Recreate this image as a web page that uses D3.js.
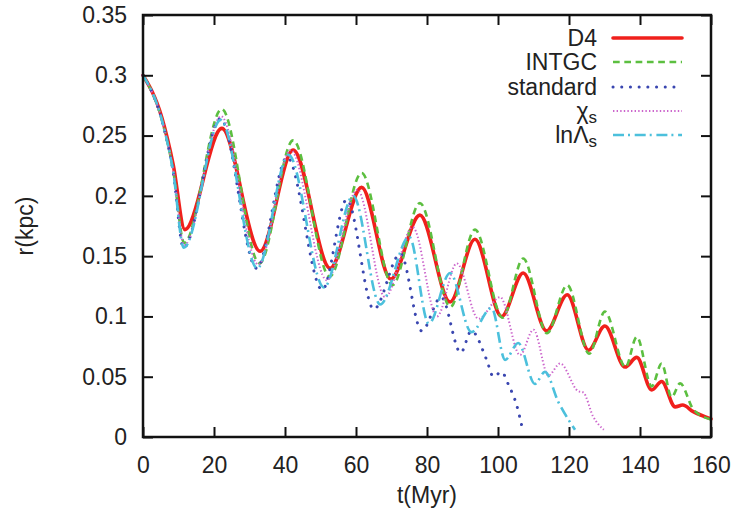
<!DOCTYPE html>
<html>
<head>
<meta charset="utf-8">
<script src="https://cdn.jsdelivr.net/npm/d3@7"></script>
<style>
  body { margin: 0; background: #fff; }
  text { font-family: "Liberation Sans", Arial, sans-serif; fill: #222; }
</style>
</head>
<body>
<div id="chart"></div>
<script>
// tick values
var xTicks = [0, 20, 40, 60, 80, 100, 120, 140, 160];
var yTicks = [0, 0.05, 0.1, 0.15, 0.2, 0.25, 0.3, 0.35];

// [t (Myr), r (kpc)] at extrema and a few in-between points
var d4 = [[0, 0.3], [5.3, 0.265], [8.5, 0.226], [11.8, 0.172], [22.2, 0.256], [33.0, 0.154], [42.3, 0.238], [52.7, 0.140],
  [61.6, 0.207], [69.8, 0.131], [78.0, 0.184], [86.5, 0.112], [93.5, 0.164], [101.0, 0.100],
  [107.1, 0.136], [113.7, 0.088], [119.5, 0.118], [125.5, 0.072], [130.1, 0.092], [135.8, 0.058],
  [139.1, 0.066], [143.3, 0.039], [146.1, 0.046], [149.9, 0.025], [152.0, 0.0265], [155.0, 0.021],
  [160, 0.015]];
var intgc = [[0, 0.3], [5.3, 0.263], [8.5, 0.221], [11.6, 0.161], [22.2, 0.272], [32.8, 0.144], [42.3, 0.246], [52.6, 0.133],
  [61.6, 0.219], [70.3, 0.126], [78.0, 0.194], [86.6, 0.108], [93.5, 0.172], [101.3, 0.099],
  [107.1, 0.148], [113.8, 0.086], [119.5, 0.126], [125.7, 0.069], [130.1, 0.104], [135.9, 0.058],
  [139.1, 0.083], [143.3, 0.042], [146.1, 0.061], [148.9, 0.033], [151.3, 0.0445], [155.0, 0.023],
  [160, 0.0145]];
var standard = [[0, 0.3], [5.3, 0.263], [8.5, 0.220], [11.4, 0.157], [21.8, 0.264], [32.0, 0.140], [40.6, 0.232], [50.5, 0.122],
  [57.4, 0.197], [65.0, 0.106], [72.5, 0.152], [78.5, 0.088], [84.0, 0.116], [89.5, 0.070],
  [92.5, 0.088], [96.8, 0.064], [98.7, 0.050], [101.0, 0.054], [103.0, 0.043], [105.3, 0.026],
  [106.8, 0.008]];
var chiS = [[0, 0.3], [5.3, 0.263], [8.5, 0.221], [11.6, 0.159], [22.0, 0.266], [32.5, 0.143], [41.6, 0.238], [51.8, 0.130],
  [60.4, 0.205], [68.2, 0.116], [76.0, 0.174], [82.8, 0.100], [88.4, 0.144], [94.5, 0.098],
  [100.6, 0.116], [106.2, 0.068], [110.0, 0.089], [114.2, 0.051], [117.5, 0.061], [122.6, 0.038],
  [124.0, 0.037], [126.8, 0.017], [129.8, 0.006]];
var lnLambdaS = [[0, 0.3], [5.3, 0.263], [8.5, 0.220], [11.5, 0.157], [21.9, 0.263], [32.2, 0.140], [41.0, 0.234], [51.0, 0.124],
  [59.2, 0.200], [66.8, 0.110], [75.0, 0.166], [80.5, 0.094], [86.5, 0.136], [92.5, 0.087],
  [98.2, 0.107], [102.0, 0.064], [105.7, 0.078], [110.4, 0.044], [113.2, 0.054], [117.0, 0.029],
  [121.7, 0.006]];

var seriesNames = ["D4", "INTGC", "standard", "χs", "lnΛs"];
var seriesData = [d4, intgc, standard, chiS, lnLambdaS];

var width = 740, height = 514;
var margin = {top: 15, right: 29, bottom: 77, left: 143};

var svg = d3.select("#chart").append("svg")
    .attr("width", width)
    .attr("height", height);

var x = d3.scaleLinear().domain([0, 160]).range([margin.left, width - margin.right]);
var y = d3.scaleLinear().domain([0, 0.35]).range([height - margin.bottom, margin.top]);

var styles = [
  {color: "#f0201c", w: 3.6, dash: null, cap: "round"},
  {color: "#5cbf40", w: 2.6, dash: "6.7,4.6", cap: "butt"},
  {color: "#3a46b0", w: 3, dash: "0.1,8.6", cap: "round"},
  {color: "#cc66cc", w: 2, dash: "1.4,2.2", cap: "butt"},
  {color: "#4cc0dc", w: 2.6, dash: "11,4,2,4.7", cap: "butt"}
];

var line = d3.line()
    .x(d => x(d[0]))
    .y(d => y(d[1]))
    .curve(d3.curveMonotoneX);

var plot = svg.append("g");
seriesData.forEach(function(s, i) {
  plot.append("path")
      .datum(s)
      .attr("fill", "none")
      .attr("stroke", styles[i].color)
      .attr("stroke-width", styles[i].w)
      .attr("stroke-dasharray", styles[i].dash)
      .attr("stroke-linecap", styles[i].cap)
      .attr("stroke-linejoin", "round")
      .attr("d", line);
});

// axes, ticks inward, mirrored on top and right
var fs = "23px";
svg.append("g")
    .attr("transform", "translate(0," + y(0) + ")")
    .call(d3.axisBottom(x).tickValues(xTicks).tickSize(-10).tickPadding(20).tickFormat(d3.format("d")))
    .call(g => g.selectAll("text").style("font-size", fs).attr("fill", "#222"));
svg.append("g")
    .attr("transform", "translate(0," + y(0.35) + ")")
    .call(d3.axisTop(x).tickValues(xTicks).tickSize(-10).tickFormat(""));
svg.append("g")
    .attr("transform", "translate(" + x(0) + ",0)")
    .call(d3.axisLeft(y).tickValues(yTicks).tickSize(-10).tickPadding(16).tickFormat(d => d == 0 ? "0" : String(+d.toFixed(2))))
    .call(g => g.selectAll("text").style("font-size", fs).attr("fill", "#222"));
svg.append("g")
    .attr("transform", "translate(" + x(160) + ",0)")
    .call(d3.axisRight(y).tickValues(yTicks).tickSize(-10).tickFormat(""));

svg.selectAll(".domain").remove();
svg.selectAll(".tick line").attr("stroke", "#111").attr("stroke-width", 2);

svg.append("rect")
    .attr("x", x(0)).attr("y", y(0.35))
    .attr("width", x(160) - x(0)).attr("height", y(0) - y(0.35))
    .attr("fill", "none").attr("stroke", "#111").attr("stroke-width", 2.5);

// axis titles
svg.append("text")
    .attr("x", (x(0) + x(160)) / 2).attr("y", 503)
    .attr("text-anchor", "middle").style("font-size", fs)
    .text("t(Myr)");
svg.append("text")
    .attr("transform", "translate(33," + ((y(0) + y(0.35)) / 2) + ") rotate(-90)")
    .attr("text-anchor", "middle").style("font-size", fs)
    .text("r(kpc)");

// legend
var legend = svg.append("g");
var rowY = [38, 62, 87, 111, 135];
seriesNames.forEach(function(name, i) {
  var t = legend.append("text")
      .attr("x", 597).attr("y", rowY[i]).attr("dy", "0.35em")
      .attr("text-anchor", "end").style("font-size", fs);
  if (i >= 3) {
    t.append("tspan").text(name.slice(0, -1));
    t.append("tspan").attr("baseline-shift", "-25%").style("font-size", "17px").text("s");
  } else {
    t.text(name);
  }
  legend.append("line")
      .attr("x1", 613).attr("x2", 682)
      .attr("y1", rowY[i]).attr("y2", rowY[i])
      .attr("stroke", styles[i].color)
      .attr("stroke-width", styles[i].w)
      .attr("stroke-dasharray", styles[i].dash)
      .attr("stroke-linecap", styles[i].cap);
});
</script>
</body>
</html>
